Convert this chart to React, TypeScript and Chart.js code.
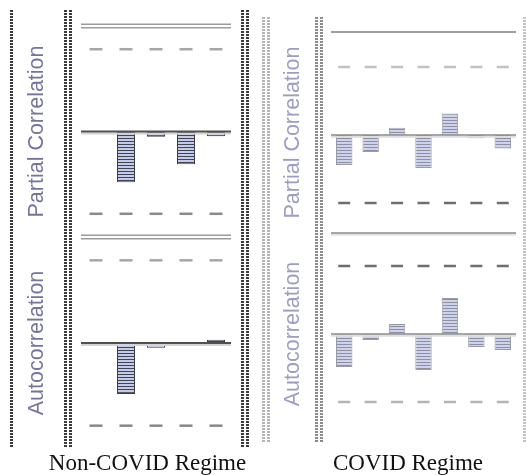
import React, { useEffect, useRef } from 'react';
import { Chart, registerables } from 'chart.js';

Chart.register(...registerables);

// ---------- data ----------
const nonCovidLags = ['1', '2', '3', '4', '5'];
const covidLags = ['1', '2', '3', '4', '5', '6', '7'];

const nonCovidPacf = [0, -0.48, -0.05, -0.31, -0.045];
const nonCovidAcf = [0, -0.48, -0.045, 0, 0.03];
const covidPacf = [-0.29, -0.165, 0.07, -0.32, 0.21, -0.03, -0.13];
const covidAcf = [-0.33, -0.06, 0.1, -0.36, 0.36, -0.13, -0.16];

const nonCovidUpper = [0.78, 0.78, 0.78, 0.78, 0.78];
const nonCovidLower = [-0.78, -0.78, -0.78, -0.78, -0.78];
const covidPacfUpper = [0.66, 0.66, 0.66, 0.66, 0.66, 0.66, 0.66];
const covidPacfLower = [-0.66, -0.66, -0.66, -0.66, -0.66, -0.66, -0.66];
const covidAcfUpper = [0.68, 0.68, 0.68, 0.68, 0.68, 0.68, 0.68];
const covidAcfLower = [-0.68, -0.68, -0.68, -0.68, -0.68, -0.68, -0.68];

const panelTitles = ['Partial Correlation', 'Autocorrelation'];
const regimeTitles = ['Non-COVID Regime', 'COVID Regime'];

// ---------- helpers ----------
function makeStripe(dark: string, light: string) {
  const c = document.createElement('canvas');
  c.width = 4;
  c.height = 3;
  const g = c.getContext('2d')!;
  g.fillStyle = light;
  g.fillRect(0, 0, 4, 3);
  g.fillStyle = dark;
  g.fillRect(0, 0, 4, 1);
  return g.createPattern(c, 'repeat');
}

type LineSpec = { value: number; color: string; width: number; double?: boolean; gap?: number; shadow?: string };

const refLinesPlugin = {
  id: 'refLines',
  afterDatasetsDraw(chart: any, _args: any, opts: any) {
    const { ctx, chartArea } = chart;
    const y = chart.scales.y;
    for (const l of (opts.lines || []) as LineSpec[]) {
      const py = y.getPixelForValue(l.value);
      ctx.save();
      if (l.shadow) {
        ctx.strokeStyle = l.shadow;
        ctx.lineWidth = 2;
        ctx.beginPath();
        ctx.moveTo(chartArea.left, py + l.width / 2 + 1);
        ctx.lineTo(chartArea.right, py + l.width / 2 + 1);
        ctx.stroke();
      }
      const offs = l.double ? [-(l.gap || 4) / 2, (l.gap || 4) / 2] : [0];
      ctx.strokeStyle = l.color;
      ctx.lineWidth = l.width;
      for (const o of offs) {
        ctx.beginPath();
        ctx.moveTo(chartArea.left, py + o);
        ctx.lineTo(chartArea.right, py + o);
        ctx.stroke();
      }
      ctx.restore();
    }
  },
};

type PanelSpec = {
  x: number; y: number; w: number; h: number;
  pad: { top: number; right: number; bottom: number };
  titlePad: { top: number; bottom: number };
  labels: string[];
  values: number[];
  upper: number[];
  lower: number[];
  yMin: number; yMax: number;
  title: string;
  titleColor: string;
  stripeDark: string; stripeLight: string; barBorder: string;
  barPct: number;
  dashR: number; upperDash: string; lowerDash: string;
  lines: LineSpec[];
};

function Panel({ spec }: { spec: PanelSpec }) {
  const ref = useRef<HTMLCanvasElement>(null);
  useEffect(() => {
    const canvas = ref.current!;
    const pattern = makeStripe(spec.stripeDark, spec.stripeLight);
    const chart = new Chart(canvas, {
      type: 'bar',
      data: {
        labels: spec.labels,
        datasets: [
          {
            type: 'bar',
            data: spec.values,
            backgroundColor: pattern as any,
            borderColor: spec.barBorder,
            borderWidth: 1,
            barPercentage: spec.barPct,
            categoryPercentage: 1,
          } as any,
          {
            type: 'line',
            data: spec.upper,
            showLine: false,
            pointStyle: 'line',
            pointRadius: spec.dashR,
            pointHoverRadius: spec.dashR,
            pointBorderWidth: 2.5,
            pointBorderColor: spec.upperDash,
          } as any,
          {
            type: 'line',
            data: spec.lower,
            showLine: false,
            pointStyle: 'line',
            pointRadius: spec.dashR,
            pointHoverRadius: spec.dashR,
            pointBorderWidth: 2.5,
            pointBorderColor: spec.lowerDash,
          } as any,
        ],
      },
      options: {
        animation: false,
        responsive: false,
        devicePixelRatio: 1,
        events: [],
        layout: {
          autoPadding: false,
          padding: { left: 0, top: spec.pad.top, right: spec.pad.right, bottom: spec.pad.bottom },
        },
        plugins: {
          legend: { display: false },
          tooltip: { enabled: false },
          refLines: { lines: spec.lines },
        } as any,
        scales: {
          x: { display: false, offset: true, grid: { display: false } },
          y: {
            min: spec.yMin,
            max: spec.yMax,
            ticks: { display: false },
            grid: { display: false, drawTicks: false },
            border: { display: false },
            title: {
              display: true,
              text: spec.title,
              color: spec.titleColor,
              font: { family: '"Liberation Sans", Arial, sans-serif', size: 21.5, lineHeight: 1.2 },
              padding: { top: spec.titlePad.top, bottom: spec.titlePad.bottom },
            },
          },
        },
      } as any,
      plugins: [refLinesPlugin as any],
    });
    return () => chart.destroy();
  }, []);
  return (
    <canvas
      ref={ref}
      width={spec.w}
      height={spec.h}
      style={{ position: 'absolute', left: spec.x, top: spec.y, width: spec.w, height: spec.h }}
    />
  );
}

function DottedCol({ x, y, h, color, w = 3 }: { x: number; y: number; h: number; color: string; w?: number }) {
  return (
    <div
      style={{
        position: 'absolute',
        left: x,
        top: y,
        width: w,
        height: h,
        background: `repeating-linear-gradient(to bottom, ${color} 0px, ${color} 2px, transparent 2px, transparent 3px)`,
      }}
    />
  );
}

const leftCommon = {
  x: 0, w: 245,
  titlePad: { top: 24.6, bottom: 30.6 },
  labels: nonCovidLags,
  upper: nonCovidUpper,
  lower: nonCovidLower,
  yMin: -1, yMax: 1,
  titleColor: '#76739f',
  stripeDark: '#44444f', stripeLight: '#c3caea', barBorder: '#3c3c46',
  barPct: 0.6,
  dashR: 6.5, upperDash: '#a6a6a6', lowerDash: '#8a8a8a',
};

const rightCommon = {
  x: 250, w: 277,
  titlePad: { top: 30.6, bottom: 24.6 },
  labels: covidLags,
  titleColor: '#9d9cc2',
  stripeDark: '#8e909e', stripeLight: '#cdd3ee', barBorder: '#9a9aa6',
  barPct: 0.62,
  dashR: 6,
};

const panels: PanelSpec[] = [
  {
    ...leftCommon,
    y: 0, h: 240,
    pad: { top: 26, right: 14, bottom: 3 },
    values: nonCovidPacf,
    title: panelTitles[0],
    lines: [
      { value: 1, color: '#9c9c9c', width: 1.5, double: true, gap: 3.5 },
      { value: -1, color: '#9c9c9c', width: 1.5, double: true, gap: 3.5 },
      { value: 0, color: '#505050', width: 2, shadow: '#d4d4d4' },
    ],
  } as PanelSpec,
  {
    ...leftCommon,
    y: 230, h: 225,
    pad: { top: 7, right: 14, bottom: 6 },
    values: nonCovidAcf,
    title: panelTitles[1],
    lines: [
      { value: 0, color: '#505050', width: 2, shadow: '#d4d4d4' },
    ],
  } as PanelSpec,
  {
    ...rightCommon,
    y: 0, h: 240,
    pad: { top: 32, right: 11, bottom: 7 },
    values: covidPacf,
    upper: covidPacfUpper,
    lower: covidPacfLower,
    yMin: -0.95, yMax: 1,
    title: panelTitles[0],
    upperDash: '#c2c2c2', lowerDash: '#6e6e6e',
    lines: [
      { value: 1, color: '#7c7c7c', width: 1.5 },
      { value: -0.95, color: '#8a8a8a', width: 1.5, shadow: '#e2e2e2' },
      { value: 0, color: '#8a8a8a', width: 1.5, shadow: '#dedede' },
    ],
  } as PanelSpec,
  {
    ...rightCommon,
    y: 230, h: 225,
    pad: { top: 4, right: 11, bottom: 21 },
    values: covidAcf,
    upper: covidAcfUpper,
    lower: covidAcfLower,
    yMin: -1, yMax: 1,
    title: panelTitles[1],
    upperDash: '#6e6e6e', lowerDash: '#b4b4b4',
    lines: [
      { value: 0, color: '#8a8a8a', width: 1.5, shadow: '#dedede' },
    ],
  } as PanelSpec,
];

export default function App() {
  useEffect(() => {
    document.body.style.margin = '0';
  }, []);
  const serif = '"Liberation Serif", "Times New Roman", serif';
  return (
    <div style={{ position: 'fixed', left: 0, top: 0, width: 527, height: 475, background: '#fff', overflow: 'hidden' }}>
      {panels.map((p, i) => (
        <Panel key={i} spec={p} />
      ))}
      {/* frame columns, left group */}
      <DottedCol x={10} y={10} h={437} color="#3a3a3a" />
      <DottedCol x={64} y={10} h={437} color="#3a3a3a" />
      <DottedCol x={69} y={10} h={437} color="#3a3a3a" />
      <DottedCol x={241} y={10} h={437} color="#3a3a3a" />
      <DottedCol x={246} y={10} h={437} color="#3a3a3a" />
      {/* frame columns, right group */}
      <DottedCol x={262} y={17} h={425} color="#b4b4b4" />
      <DottedCol x={267} y={17} h={425} color="#b4b4b4" />
      <DottedCol x={315} y={17} h={425} color="#8a8a8a" />
      <DottedCol x={320} y={17} h={425} color="#8a8a8a" />
      <DottedCol x={523} y={17} h={425} color="#c4c4c4" />
      {/* regime titles */}
      <div style={{ position: 'absolute', left: 0, width: 295, top: 451, textAlign: 'center', font: `23px/23px ${serif}`, color: '#111' }}>
        {regimeTitles[0]}
      </div>
      <div style={{ position: 'absolute', left: 258, width: 300, top: 451, textAlign: 'center', font: `23px/23px ${serif}`, color: '#111' }}>
        {regimeTitles[1]}
      </div>
    </div>
  );
}
